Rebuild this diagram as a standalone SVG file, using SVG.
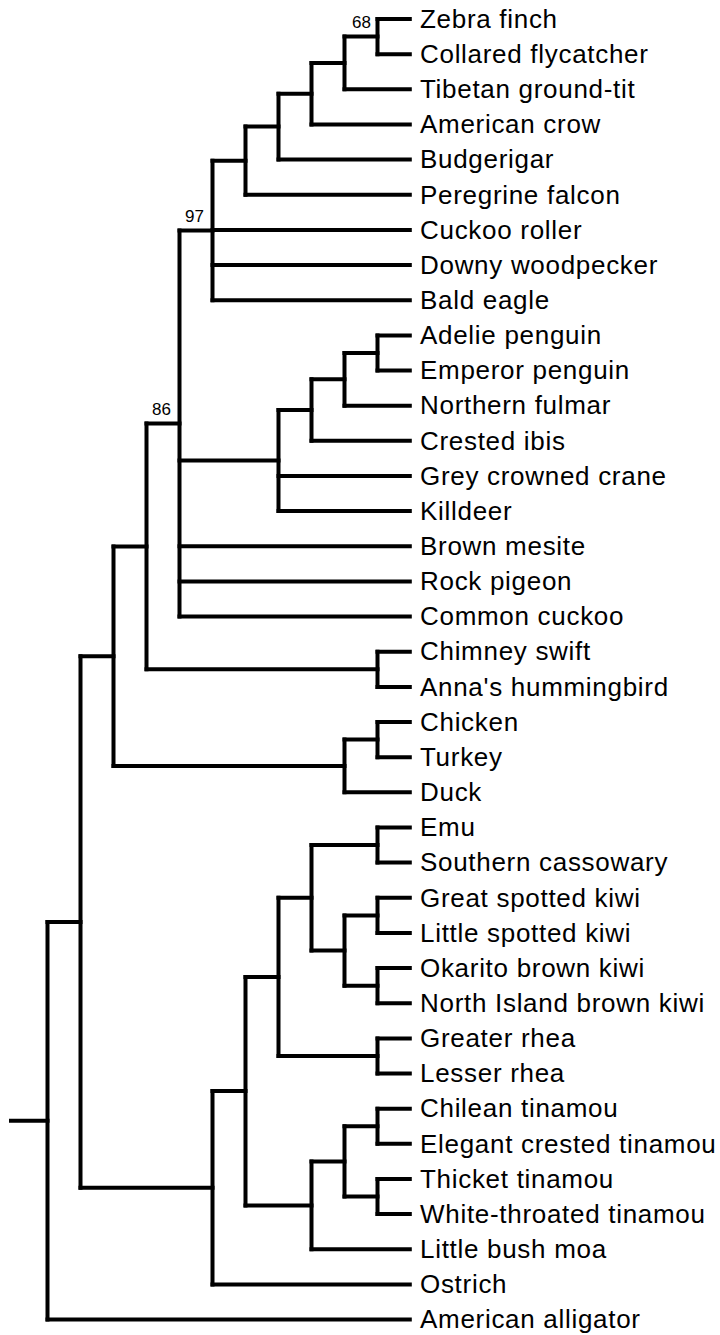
<svg xmlns="http://www.w3.org/2000/svg" width="720" height="1335" viewBox="0 0 720 1335">
<style>
  .br { fill: none; stroke: #000; stroke-width: 4; stroke-linecap: square; stroke-linejoin: miter; }
  .leaf { font-family: "Liberation Sans", Arial, sans-serif; font-size: 26px; letter-spacing: 0.7px; fill: #000; }
  .sup { font-family: "Liberation Sans", Arial, sans-serif; font-size: 17px; fill: #000; text-anchor: end; }
</style>
<rect width="720" height="1335" fill="#fff"/>
<g id="connectors">
  <path class="br" d="M377.5 19 V54.2 M344.5 36.6 V89.3 M311.5 62.9 V124.5 M278.5 93.7 V159.6 M245.5 126.6 V194.8 M212.5 160.7 V300.2 M377.5 335.4 V370.5 M344.5 353 V405.7 M311.5 379.3 V440.8 M278.5 410.1 V511.1 M179.5 230.5 V616.6 M377.5 651.7 V686.9 M146.5 423.5 V669.3 M377.5 722 V757.2 M344.5 739.6 V792.3 M113.5 546.4 V766 M377.5 827.5 V862.6 M377.5 897.8 V932.9 M377.5 968.1 V1003.2 M344.5 915.4 V985.7 M311.5 845.1 V950.5 M377.5 1038.4 V1073.5 M278.5 897.8 V1056 M377.5 1108.7 V1143.8 M377.5 1179 V1214.1 M344.5 1126.3 V1196.6 M311.5 1161.4 V1249.3 M245.5 976.9 V1205.4 M212.5 1091.1 V1284.4 M80.5 656.2 V1187.8 M47.5 922 V1319.6"/>
  <path class="br" d="M344.5 36.6 H377.5 M311.5 62.9 H344.5 M278.5 93.7 H311.5 M245.5 126.6 H278.5 M212.5 160.7 H245.5 M179.5 230.5 H212.5 M344.5 353 H377.5 M311.5 379.3 H344.5 M278.5 410.1 H311.5 M179.5 460.6 H278.5 M146.5 423.5 H179.5 M146.5 669.3 H377.5 M113.5 546.4 H146.5 M344.5 739.6 H377.5 M113.5 766 H344.5 M80.5 656.2 H113.5 M311.5 845.1 H377.5 M344.5 915.4 H377.5 M344.5 985.7 H377.5 M311.5 950.5 H344.5 M278.5 897.8 H311.5 M278.5 1056 H377.5 M245.5 976.9 H278.5 M344.5 1126.3 H377.5 M344.5 1196.6 H377.5 M311.5 1161.4 H344.5 M245.5 1205.4 H311.5 M212.5 1091.1 H245.5 M80.5 1187.8 H212.5 M47.5 922 H80.5 M11 1120.8 H47.5"/>
  <path class="br" d="M377.5 19 H409.8 M377.5 54.2 H409.8 M344.5 89.3 H409.8 M311.5 124.5 H409.8 M278.5 159.6 H409.8 M245.5 194.8 H409.8 M212.5 229.9 H409.8 M212.5 265.1 H409.8 M212.5 300.2 H409.8 M377.5 335.4 H409.8 M377.5 370.5 H409.8 M344.5 405.7 H409.8 M311.5 440.8 H409.8 M278.5 476 H409.8 M278.5 511.1 H409.8 M179.5 546.3 H409.8 M179.5 581.4 H409.8 M179.5 616.6 H409.8 M377.5 651.7 H409.8 M377.5 686.9 H409.8 M377.5 722 H409.8 M377.5 757.2 H409.8 M344.5 792.3 H409.8 M377.5 827.5 H409.8 M377.5 862.6 H409.8 M377.5 897.8 H409.8 M377.5 932.9 H409.8 M377.5 968.1 H409.8 M377.5 1003.2 H409.8 M377.5 1038.4 H409.8 M377.5 1073.5 H409.8 M377.5 1108.7 H409.8 M377.5 1143.8 H409.8 M377.5 1179 H409.8 M377.5 1214.1 H409.8 M311.5 1249.3 H409.8 M212.5 1284.4 H409.8 M47.5 1319.6 H409.8"/>
</g>
<g id="support-labels">
  <g id="node-68"><text class="sup" x="371" y="28">68</text></g>
  <g id="node-97"><text class="sup" x="204" y="222">97</text></g>
  <g id="node-86"><text class="sup" x="171" y="415">86</text></g>
</g>
<g id="leaves">
  <g id="leaf-zebra-finch"><text class="leaf" x="420" y="27.7">Zebra finch</text></g>
  <g id="leaf-collared-flycatcher"><text class="leaf" x="420" y="62.9">Collared flycatcher</text></g>
  <g id="leaf-tibetan-ground-tit"><text class="leaf" x="420" y="98">Tibetan ground-tit</text></g>
  <g id="leaf-american-crow"><text class="leaf" x="420" y="133.2">American crow</text></g>
  <g id="leaf-budgerigar"><text class="leaf" x="420" y="168.3">Budgerigar</text></g>
  <g id="leaf-peregrine-falcon"><text class="leaf" x="420" y="203.5">Peregrine falcon</text></g>
  <g id="leaf-cuckoo-roller"><text class="leaf" x="420" y="238.6">Cuckoo roller</text></g>
  <g id="leaf-downy-woodpecker"><text class="leaf" x="420" y="273.8">Downy woodpecker</text></g>
  <g id="leaf-bald-eagle"><text class="leaf" x="420" y="308.9">Bald eagle</text></g>
  <g id="leaf-adelie-penguin"><text class="leaf" x="420" y="344.1">Adelie penguin</text></g>
  <g id="leaf-emperor-penguin"><text class="leaf" x="420" y="379.2">Emperor penguin</text></g>
  <g id="leaf-northern-fulmar"><text class="leaf" x="420" y="414.4">Northern fulmar</text></g>
  <g id="leaf-crested-ibis"><text class="leaf" x="420" y="449.5">Crested ibis</text></g>
  <g id="leaf-grey-crowned-crane"><text class="leaf" x="420" y="484.7">Grey crowned crane</text></g>
  <g id="leaf-killdeer"><text class="leaf" x="420" y="519.8">Killdeer</text></g>
  <g id="leaf-brown-mesite"><text class="leaf" x="420" y="555">Brown mesite</text></g>
  <g id="leaf-rock-pigeon"><text class="leaf" x="420" y="590.1">Rock pigeon</text></g>
  <g id="leaf-common-cuckoo"><text class="leaf" x="420" y="625.3">Common cuckoo</text></g>
  <g id="leaf-chimney-swift"><text class="leaf" x="420" y="660.4">Chimney swift</text></g>
  <g id="leaf-annas-hummingbird"><text class="leaf" x="420" y="695.6">Anna's hummingbird</text></g>
  <g id="leaf-chicken"><text class="leaf" x="420" y="730.7">Chicken</text></g>
  <g id="leaf-turkey"><text class="leaf" x="420" y="765.9">Turkey</text></g>
  <g id="leaf-duck"><text class="leaf" x="420" y="801">Duck</text></g>
  <g id="leaf-emu"><text class="leaf" x="420" y="836.2">Emu</text></g>
  <g id="leaf-southern-cassowary"><text class="leaf" x="420" y="871.3">Southern cassowary</text></g>
  <g id="leaf-great-spotted-kiwi"><text class="leaf" x="420" y="906.5">Great spotted kiwi</text></g>
  <g id="leaf-little-spotted-kiwi"><text class="leaf" x="420" y="941.6">Little spotted kiwi</text></g>
  <g id="leaf-okarito-brown-kiwi"><text class="leaf" x="420" y="976.8">Okarito brown kiwi</text></g>
  <g id="leaf-north-island-brown-kiwi"><text class="leaf" x="420" y="1011.9">North Island brown kiwi</text></g>
  <g id="leaf-greater-rhea"><text class="leaf" x="420" y="1047.1">Greater rhea</text></g>
  <g id="leaf-lesser-rhea"><text class="leaf" x="420" y="1082.2">Lesser rhea</text></g>
  <g id="leaf-chilean-tinamou"><text class="leaf" x="420" y="1117.4">Chilean tinamou</text></g>
  <g id="leaf-elegant-crested-tinamou"><text class="leaf" x="420" y="1152.5">Elegant crested tinamou</text></g>
  <g id="leaf-thicket-tinamou"><text class="leaf" x="420" y="1187.7">Thicket tinamou</text></g>
  <g id="leaf-white-throated-tinamou"><text class="leaf" x="420" y="1222.8">White-throated tinamou</text></g>
  <g id="leaf-little-bush-moa"><text class="leaf" x="420" y="1258">Little bush moa</text></g>
  <g id="leaf-ostrich"><text class="leaf" x="420" y="1293.1">Ostrich</text></g>
  <g id="leaf-american-alligator"><text class="leaf" x="420" y="1328.3">American alligator</text></g>
</g>
</svg>
